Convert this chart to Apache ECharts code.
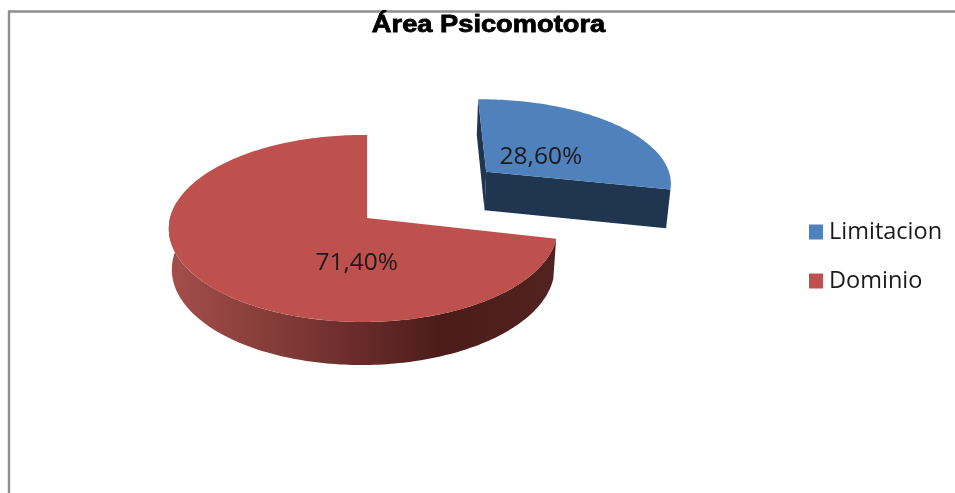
<!DOCTYPE html>
<html><head><meta charset="utf-8">
<style>html,body{margin:0;padding:0;background:#fff}#c{width:955px;height:493px}</style>
<script src="https://cdn.jsdelivr.net/npm/echarts@6/dist/echarts.min.js"></script>
</head><body><div id="c"></div>
<script>
const categories = ['Limitacion', 'Dominio'];
const seriesValues = [28.60, 71.40];
const titleText = 'Área Psicomotora';
const topColors = ['#4F81BD', '#BE504D'];

const P = {cx:367, cy:218, a:193, b:92.3, k:0.112, h:40.4, m:0.015};
const explode = [0.83, 0];
const skewQ = [0, 0.02];
const labelAnchor = [[0.964,-0.70],[-0.05,0.465]];
const total = seriesValues.reduce((s,v)=>s+v,0);

function proj(u,v,low,i){
  const w = 1 - P.k*v + (low?P.m:0) + skewQ[i]*u;
  let x = P.cx + P.a*u/w, y = P.cy + (P.b*v + (low?P.h:0))/w;
  if(i===0){
    x += -3.3*(v+0.302);
    y += -1 - (u-0.644) - 2*(v+0.527);
  }
  return [x,y];
}
function arc(start,end,ox,oy,low,i){
  const pts=[], n=Math.max(8,Math.ceil(Math.abs(end-start)/0.02));
  for(let j=0;j<=n;j++){
    const t=start+(end-start)*j/n;
    pts.push(proj(ox+Math.sin(t),oy-Math.cos(t),low,i));
  }
  return pts;
}
function poly(points,fill,z2){return {type:'polygon',shape:{points},style:{fill,stroke:null},z2};}

function renderSlice(params,api){
  const i=params.seriesIndex;
  const before=seriesValues.slice(0,i).reduce((s,v)=>s+v,0);
  const start=before/total*2*Math.PI;
  const end=start+api.value(0)/total*2*Math.PI;
  const mid=(start+end)/2;
  const ox=explode[i]*Math.sin(mid), oy=-explode[i]*Math.cos(mid);
  const apexT=proj(ox,oy,false,i), apexB=proj(ox,oy,true,i);
  const kids=[];
  if(i===0){
    const wall='#1F3550';
    const s=[ox+Math.sin(start),oy-Math.cos(start)], e=[ox+Math.sin(end),oy-Math.cos(end)];
    kids.push(poly([apexT,proj(s[0],s[1],false,i),proj(s[0],s[1],true,i),apexB],wall,1));
    kids.push(poly([apexT,proj(e[0],e[1],false,i),proj(e[0],e[1],true,i),apexB],wall,1));
  } else {
    const wallEnd=Math.PI*1.56;
    const gr=new echarts.graphic.LinearGradient(172,0,556,0,[
      {offset:0,color:'#A34E4B'},
      {offset:0.35,color:'#7A3633'},
      {offset:0.7,color:'#4C1C1A'},
      {offset:1,color:'#512220'}],true);
    const topA=arc(start,wallEnd,ox,oy,false,i), botA=arc(start,wallEnd,ox,oy,true,i).reverse();
    kids.push(poly(topA.concat(botA),gr,1));
  }
  kids.push(poly([apexT].concat(arc(start,end,ox,oy,false,i)),topColors[i],2));
  const lp=proj(labelAnchor[i][0],labelAnchor[i][1],false,i);
  kids.push({type:'text',z2:3,style:{
    x:lp[0],y:lp[1],text:api.value(0).toFixed(2).replace('.',',')+'%',
    fill:'#1a1a1a',font:'24.5px "Open Sans"',align:'center',verticalAlign:'middle'}});
  return {type:'group',children:kids};
}

const chart=echarts.init(document.getElementById('c'),null,{renderer:'canvas'});
chart.setOption({
  animation:false,
  backgroundColor:'#fff',
  legend:{data:categories,orient:'vertical',left:809,top:220,padding:0,itemWidth:14,itemHeight:15,itemGap:25,
    icon:'rect',selectedMode:false,
    textStyle:{fontFamily:'"Open Sans"',fontSize:23.5,color:'#1a1a1a',padding:[2,0,0,1]}},
  graphic:[
    {type:'polyline',silent:true,shape:{points:[[9,493],[9,11.5],[955,11.5]]},
     style:{stroke:'#8f8f8f',lineWidth:2.4,fill:null}},
    {type:'text',silent:true,x:488.5,y:25.5,scaleX:1.16,scaleY:1,
     style:{text:titleText,align:'center',verticalAlign:'middle',
       font:'bold 23.5px "Liberation Sans"',fill:'#000',stroke:'#000',lineWidth:0.8}}
  ],
  series:categories.map((name,i)=>({
    type:'custom',name,coordinateSystem:'none',
    itemStyle:{color:topColors[i]},
    data:[[seriesValues[i]]],
    renderItem:renderSlice
  }))
});
</script></body></html>
